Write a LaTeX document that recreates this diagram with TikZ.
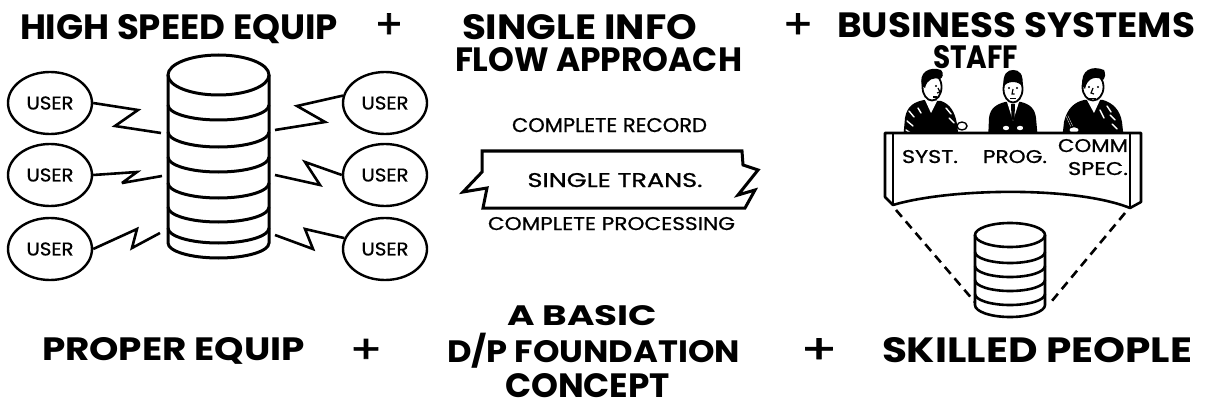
\documentclass[tikz,border=0pt]{standalone}
\usepackage{fontspec}
\usepackage{graphicx}
\usetikzlibrary{shapes.geometric,calc}
\newfontfamily\handfont{Poppins}
\newfontfamily\labelfont{Poppins}[FakeBold=0.8]
\newfontfamily\plusfont{Poppins}[FakeBold=1.6]
% set a text to an exact width and cap height
\newcommand\fitw[3]{\resizebox{#1pt}{#2pt}{#3}}

\tikzset{
  hand/.style={inner sep=0pt, outer sep=0pt, anchor=base west, font=\handfont\bfseries},
  handplus/.style={inner sep=0pt, anchor=center, font=\plusfont},
  lab/.style={inner sep=0pt, anchor=base, font=\labelfont},
  user/.style={ellipse, draw, line width=2.4pt, minimum width=84pt, minimum height=62pt,
               inner sep=0pt, font=\labelfont},
  bolt/.style={line width=2.6pt, line join=miter, miter limit=4},
  drumline/.style={line width=3pt},
  desk/.style={line width=2.6pt, line join=round},
  dashline/.style={line width=2.6pt, dash pattern=on 9pt off 6pt},
  tape/.style={line width=3pt, line join=miter, miter limit=4},
  person/.style={fill=black},
  face/.style={fill=white, draw=black, line width=1.8pt},
  stripe/.style={white, line width=1.4pt, line cap=round},
}

\begin{document}
\begin{tikzpicture}[x=1pt, y=-1pt]
\useasboundingbox (0,0) rectangle (1207,409);
\fill[white] (0,0) rectangle (1207,409);

% ---------------- headings ----------------
\node[hand] (h1) at (20,40) {\fitw{318}{25}{HIGH SPEED EQUIP}};
\node[handplus] (p1) at (389,26) {\fitw{28}{25}{+}};
\node[hand] (h2a) at (462,40) {\fitw{235}{25}{SINGLE INFO}};
\node[hand] (h2b) at (455,72) {\fitw{287}{24}{FLOW APPROACH}};
\node[handplus] (p2) at (798,26) {\fitw{30}{25}{+}};
\node[hand] (h3a) at (837,38) {\fitw{358}{25}{BUSINESS SYSTEMS}};
\node[hand] (h3b) at (933,69) {\fitw{85}{23}{STAFF}};

% ---------------- bottom row ----------------
\node[hand] (b1) at (42,360) {\fitw{263}{23}{PROPER EQUIP}};
\node[handplus] (p3) at (366,351) {\fitw{32}{24}{+}};
\node[hand] (b2a) at (507,325) {\fitw{150}{20}{A BASIC}};
\node[hand] (b2b) at (447,362) {\fitw{293}{22}{D\smash{/}P FOUNDATION}};
\node[hand] (b2c) at (505,397) {\fitw{165}{24}{CONCEPT}};
\node[handplus] (p4) at (819,351) {\fitw{36}{25}{+}};
\node[hand] (b3) at (882,362) {\fitw{310}{25}{SKILLED PEOPLE}};

% ---------------- disk drum with users ----------------
\node[minimum width=101pt, minimum height=203pt, inner sep=0pt] (drum) at (218.5,156.5) {};
\draw[drumline] (218.5,75) ellipse [x radius=50.5, y radius=20];
\draw[drumline] (168,75) -- (168,243) arc[start angle=180, end angle=0, x radius=50.5, y radius=15] -- (269,75);
\foreach \s in {105,132,157,183,207,228}
  \draw[drumline] (168,\s) arc[start angle=180, end angle=0, x radius=50.5, y radius=15];

\node[user] (uL1) at (50,103) {\fitw{47}{13}{USER}};
\node[user] (uL2) at (50,175) {\fitw{47}{13}{USER}};
\node[user] (uL3) at (50,249) {\fitw{47}{13}{USER}};
\node[user] (uR1) at (385,103) {\fitw{47}{13}{USER}};
\node[user] (uR2) at (385,175) {\fitw{47}{13}{USER}};
\node[user] (uR3) at (385,249) {\fitw{47}{13}{USER}};

\coordinate (dL1) at (161,133);
\coordinate (dL2) at (162,176);
\coordinate (dL3) at (160,233);
\coordinate (dR1) at (275,130);
\coordinate (dR2) at (275,175);
\coordinate (dR3) at (275,235);

\draw[bolt] (uL1.east) -- (138,110) -- (115,126) -- (dL1);
\draw[bolt] (uL2.east) -- (137,172) -- (122,183) -- (dL2);
\draw[bolt] (uL3.east) -- (137,229) -- (132,248) -- (dL3);
\draw[bolt] (uR1.170) -- (297,106) -- (325,122) -- (dR1);
\draw[bolt] (uR2.west) -- (305,162) -- (320,185) -- (dR2);
\draw[bolt] (uR3.165) -- (305,229) -- (313,249) -- (dR3);

% ---------------- single transaction tape ----------------
\node[lab] (rec) at (609.5,132) {\fitw{195}{14}{COMPLETE RECORD}};
\draw[tape] (482,151) -- (742,151) -- (743,165) -- (758,170) -- (738,195) -- (755,190)
  -- (745,208) -- (483,208) -- (487,188) -- (463,192) -- (482,172) -- cycle;
\node[lab] (trans) at (615,187) {\fitw{175}{14}{SINGLE TRANS.}};
\node[lab] (proc) at (611.5,230) {\fitw{247}{13}{COMPLETE PROCESSING}};

% ---------------- staff behind the desk ----------------
% systems analyst
\fill[person] (903,140) -- (905,118) .. controls (907,106) and (914,102) .. (924,100)
  -- (941,101) .. controls (950,104) and (955,112) .. (957,124) -- (959,140) -- cycle;
\foreach \a/\b in {{909,111}/{914,117}, {907,121}/{913,126}, {906,130}/{912,134},
                   {946,108}/{951,114}, {949,118}/{954,123}, {918,108}/{921,113}}
  \draw[stripe] (\a) -- (\b);
\fill[white] (925,100) -- (931,113) -- (937,101) -- cycle;
\filldraw[face, line width=1.4pt] (962,126) ellipse [x radius=5, y radius=4];
\filldraw[face] (932,87) ellipse [x radius=9.5, y radius=13.5];
\fill (922,86) .. controls (918,72) and (930,66) .. (941,70) .. controls (944,73) and (943,78) .. (940,79)
  .. controls (934,77) and (927,79) .. (925,88) -- cycle;
\fill (936,86) circle (1.2);
\draw[line width=1.2pt] (938,88) -- (940,92) -- (937,93);
\draw[line width=1.2pt] (933,97) -- (937,97);

% programmer
\fill[person] (988,140) -- (989,118) .. controls (990,108) and (997,104) .. (1005,102)
  -- (1021,102) .. controls (1029,104) and (1035,108) .. (1036,118) -- (1038,140) -- cycle;
\fill[white] (1007,102) -- (1013,121) -- (1019,102) -- cycle;
\fill (1011,104) -- (1015,104) -- (1014.5,118) -- (1013,121) -- (1011.5,118) -- cycle;
\filldraw[face, line width=1.2pt] (1006,128) ellipse [x radius=4, y radius=3];
\filldraw[face, line width=1.2pt] (1020,128) ellipse [x radius=4, y radius=3];
\filldraw[face] (1013,89) ellipse [x radius=9.5, y radius=13.5];
\fill (1003.5,88) .. controls (1002,73) and (1008,70) .. (1013,70) .. controls (1019,70) and (1024,73) .. (1022.5,88)
  .. controls (1021,80) and (1005,80) .. cycle;
\fill (1009,88) circle (1.1);
\fill (1017,88) circle (1.1);
\draw[line width=1.2pt] (1013,89) -- (1012,94) -- (1014.5,94);
\draw[line width=1.2pt] (1010,98.5) -- (1016,98.5);

% communications specialist
\fill[person] (1062,140) -- (1064,122) .. controls (1067,108) and (1075,102) .. (1084,100)
  -- (1103,100) .. controls (1113,103) and (1120,110) .. (1122,122) -- (1124,140) -- cycle;
\foreach \a/\b in {{1107,106}/{1111,112}, {1110,115}/{1115,120}, {1112,124}/{1117,129},
                   {1100,110}/{1104,118}}
  \draw[stripe] (\a) -- (\b);
\fill[white] (1087,100) -- (1094,113) -- (1100,100) -- cycle;
\draw[white, line width=2.2pt] (1067,116) -- (1073,129);
\draw[line width=1.4pt] (1067,116) -- (1073,129);
\filldraw[face, line width=1.4pt] (1074,130) ellipse [x radius=5.5, y radius=3.5];
\filldraw[face] (1093,87) ellipse [x radius=10.5, y radius=13.5];
\fill (1082.5,86) .. controls (1080,70) and (1092,65) .. (1104,70) .. controls (1106,74) and (1105,78) .. (1103,80)
  .. controls (1097,76) and (1087,77) .. (1085,89) -- cycle;
\fill (1089,87) circle (1.1);
\fill (1098,87) circle (1.1);
\draw[line width=1.2pt] (1093,88) -- (1091,93) -- (1094,94);
\draw[line width=1.2pt] (1089,98.5) -- (1096,98.5);

% desk banner
\filldraw[fill=white, desk] (885,133) -- (1141,133) -- (1141,202) -- (1130,208)
  .. controls (1075,186) and (950,188) .. (893,205) -- (885,197) -- cycle;
\draw[desk] (893,133) -- (893,205);
\draw[desk] (1130,133) -- (1130,208);
\node[lab] (syst) at (930,163) {\fitw{56}{13}{SYST.}};
\node[lab] (prog) at (1015,163) {\fitw{64}{13}{PROG.}};
\node[lab] (comm) at (1093,152) {\fitw{70}{13}{COMM}};
\node[lab] (spec) at (1098,175) {\fitw{60}{13}{SPEC.}};

% ---------------- small drum ----------------
\node[minimum width=70pt, minimum height=94pt, inner sep=0pt] (drum2) at (1010,270) {};
\draw[drumline, line width=2.6pt] (1010,235) ellipse [x radius=35, y radius=12];
\draw[drumline, line width=2.6pt] (975,235) -- (975,305) arc[start angle=180, end angle=0, x radius=35, y radius=12] -- (1045,235);
\foreach \s in {252,266,280,294}
  \draw[drumline, line width=2.6pt] (975,\s) arc[start angle=180, end angle=0, x radius=35, y radius=11];

\coordinate (bL) at (896,210);
\coordinate (bR) at (1125,213);
\draw[dashline] (bL) -- (drum2.west |- 0,302);
\draw[dashline] (bR) -- ($(drum2.east |- 0,303)+(5,0)$);

\end{tikzpicture}
\end{document}
